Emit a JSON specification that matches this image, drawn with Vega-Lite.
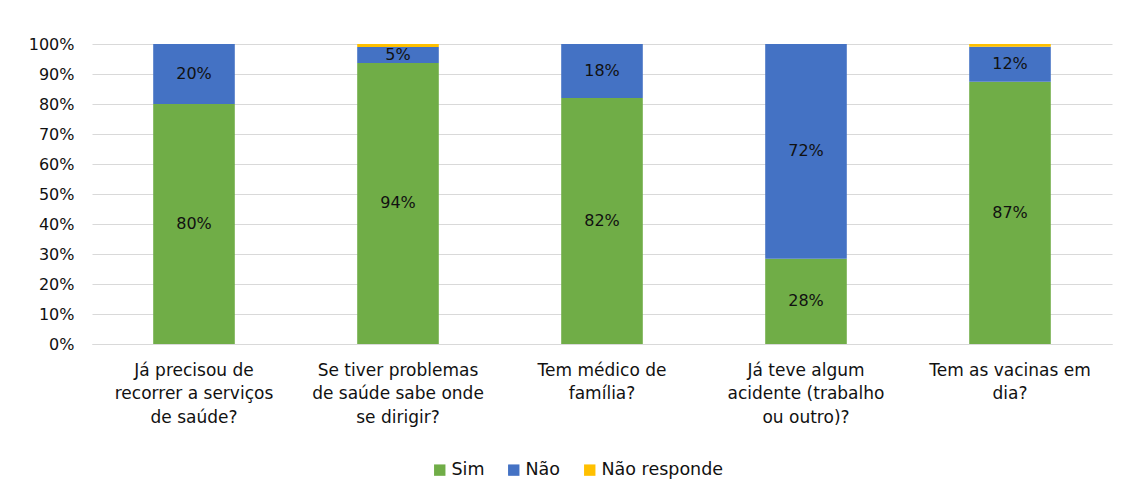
{
  "$schema": "https://vega.github.io/schema/vega-lite/v6.json",
  "width": 1020,
  "height": 300,
  "autosize": {"type": "none"},
  "padding": {"left": 92, "top": 44, "right": 17, "bottom": 149},
  "background": "white",
  "config": {
    "font": "DejaVu Sans",
    "view": {"stroke": null}
  },
  "data": {
    "values": [
      {"categoria": "Já precisou de|recorrer a serviços|de saúde?", "Resposta": "Sim", "ordem": 1, "valor": 0.80},
      {"categoria": "Já precisou de|recorrer a serviços|de saúde?", "Resposta": "Não", "ordem": 2, "valor": 0.20},
      {"categoria": "Já precisou de|recorrer a serviços|de saúde?", "Resposta": "Não responde", "ordem": 3, "valor": 0.0},
      {"categoria": "Se tiver problemas|de saúde sabe onde|se dirigir?", "Resposta": "Sim", "ordem": 1, "valor": 0.937},
      {"categoria": "Se tiver problemas|de saúde sabe onde|se dirigir?", "Resposta": "Não", "ordem": 2, "valor": 0.053},
      {"categoria": "Se tiver problemas|de saúde sabe onde|se dirigir?", "Resposta": "Não responde", "ordem": 3, "valor": 0.010},
      {"categoria": "Tem médico de|família?", "Resposta": "Sim", "ordem": 1, "valor": 0.82},
      {"categoria": "Tem médico de|família?", "Resposta": "Não", "ordem": 2, "valor": 0.18},
      {"categoria": "Tem médico de|família?", "Resposta": "Não responde", "ordem": 3, "valor": 0.0},
      {"categoria": "Já teve algum|acidente (trabalho|ou outro)?", "Resposta": "Sim", "ordem": 1, "valor": 0.284},
      {"categoria": "Já teve algum|acidente (trabalho|ou outro)?", "Resposta": "Não", "ordem": 2, "valor": 0.716},
      {"categoria": "Já teve algum|acidente (trabalho|ou outro)?", "Resposta": "Não responde", "ordem": 3, "valor": 0.0},
      {"categoria": "Tem as vacinas em|dia?", "Resposta": "Sim", "ordem": 1, "valor": 0.874},
      {"categoria": "Tem as vacinas em|dia?", "Resposta": "Não", "ordem": 2, "valor": 0.117},
      {"categoria": "Tem as vacinas em|dia?", "Resposta": "Não responde", "ordem": 3, "valor": 0.009}
    ]
  },
  "encoding": {
    "x": {
      "field": "categoria",
      "type": "nominal",
      "sort": null,
      "scale": {"paddingInner": 0.6, "paddingOuter": 0.3},
      "axis": {
        "title": null,
        "labelAngle": 0,
        "labelExpr": "split(datum.label, '|')",
        "labelFont": "DejaVu Sans",
        "labelFontSize": 17,
        "labelLineHeight": 23.5,
        "labelColor": "#111111",
        "labelPadding": 18,
        "labelLimit": 300,
        "ticks": false,
        "domainColor": "#d9d9d9",
        "domainWidth": 1,
        "grid": false
      }
    }
  },
  "layer": [
    {
      "mark": {"type": "bar"},
      "encoding": {
        "y": {
          "field": "valor",
          "type": "quantitative",
          "stack": "zero",
          "scale": {"domain": [0, 1], "nice": false},
          "axis": {
            "title": null,
            "values": [0, 0.1, 0.2, 0.3, 0.4, 0.5, 0.6, 0.7, 0.8, 0.9, 1],
            "format": ".0%",
            "labelOverlap": false,
            "domain": false,
            "ticks": false,
            "labelPadding": 18,
            "labelFont": "DejaVu Sans",
            "labelFontSize": 16,
            "labelColor": "#111111",
            "gridColor": "#d9d9d9",
            "gridWidth": 1
          }
        },
        "color": {
          "field": "Resposta",
          "type": "nominal",
          "scale": {
            "domain": ["Sim", "Não", "Não responde"],
            "range": ["#70ad47", "#4472c4", "#ffc000"]
          },
          "legend": {
            "title": null,
            "orient": "none",
            "direction": "horizontal",
            "legendX": 339,
            "legendY": 417,
            "symbolType": "square",
            "symbolSize": 130,
            "symbolStrokeWidth": 0,
            "labelFont": "DejaVu Sans",
            "labelFontSize": 17.5,
            "labelColor": "#111111",
            "labelOffset": 3,
            "columnPadding": 20
          }
        },
        "order": {"field": "ordem", "type": "quantitative"}
      }
    },
    {
      "transform": [{"filter": "datum.Resposta != 'Não responde'"}],
      "mark": {"type": "text", "font": "DejaVu Sans", "fontSize": 16, "color": "#111111", "baseline": "middle"},
      "encoding": {
        "y": {
          "field": "valor",
          "type": "quantitative",
          "stack": "zero",
          "bandPosition": 0.5,
          "axis": {
            "title": null,
            "values": [0, 0.1, 0.2, 0.3, 0.4, 0.5, 0.6, 0.7, 0.8, 0.9, 1],
            "format": ".0%",
            "labelOverlap": false,
            "domain": false,
            "ticks": false,
            "labelPadding": 18,
            "labelFont": "DejaVu Sans",
            "labelFontSize": 16,
            "labelColor": "#111111",
            "gridColor": "#d9d9d9",
            "gridWidth": 1
          }
        },
        "detail": {"field": "Resposta"},
        "order": {"field": "ordem", "type": "quantitative"},
        "text": {"field": "valor", "type": "quantitative", "format": ".0%"}
      }
    }
  ]
}
